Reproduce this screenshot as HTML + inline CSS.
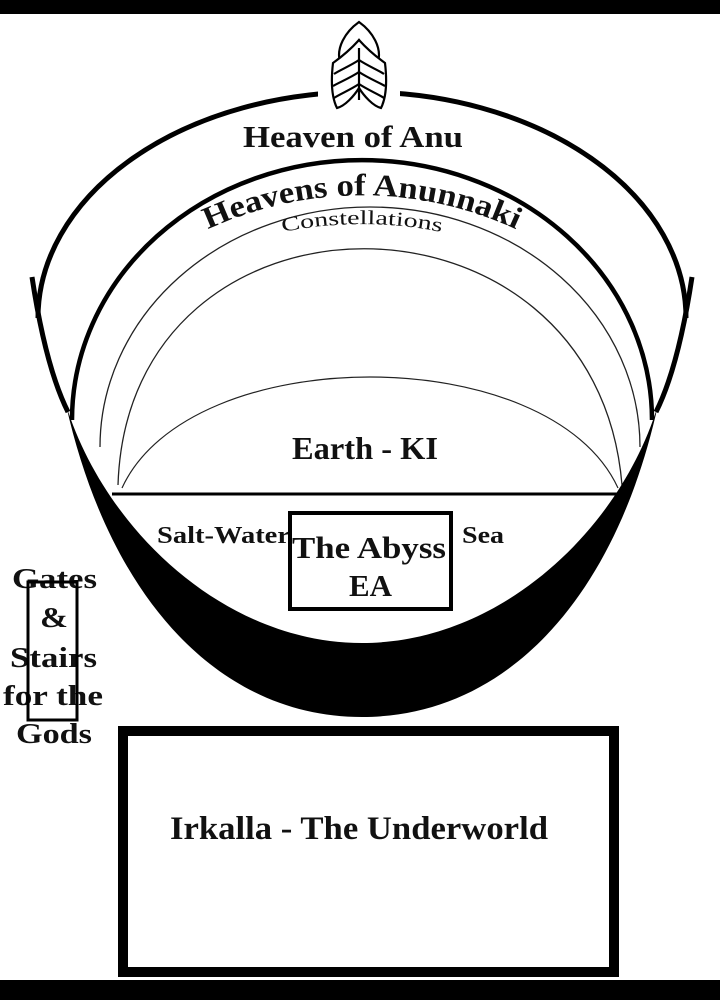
<!DOCTYPE html>
<html><head><meta charset="utf-8"><style>
html,body{margin:0;padding:0;background:#fff;}
svg{display:block;}
text{font-family:"Liberation Serif",serif;font-weight:bold;fill:#111;}
</style></head><body>
<svg width="720" height="1000" viewBox="0 0 720 1000" xmlns="http://www.w3.org/2000/svg">
<rect x="0" y="0" width="720" height="14" fill="#000"/>
<rect x="0" y="980" width="720" height="20" fill="#000"/>

<path d="M38,318 A324 226 0 0 1 686,318" fill="none" stroke="#000" stroke-width="5"/>
<rect x="318" y="80" width="82" height="30" fill="#fff"/>
<g fill="#fff" stroke="#000" stroke-width="2.2">
<path d="M359,22 C345,32 336,48 340,62 C345,64 352,50 359,40 C366,50 373,64 378,62 C382,48 373,32 359,22 Z"/>
<path d="M359,40 C350,50 340,58 333,63 C331,80 331,96 337,108 C345,106 354,96 359,88 C364,96 373,106 381,108 C387,96 387,80 385,63 C378,58 368,50 359,40 Z"/>
<path d="M359,48 L359,100" fill="none"/>
<path d="M359,60 C350,66 340,70 334,74 M359,72 C350,78 340,82 333,86 M359,84 C350,90 340,94 334,98 M359,60 C368,66 378,70 384,74 M359,72 C368,78 378,82 385,86 M359,84 C368,90 378,94 384,98" fill="none"/>
</g>

<path d="M72,420 A290 260 0 0 1 652,420" fill="none" stroke="#000" stroke-width="4.5"/>
<path d="M100,447 A270 240 0 0 1 640,447" fill="none" stroke="#222" stroke-width="1.3"/>
<path d="M118,485 C128,170 596,170 622,485" fill="none" stroke="#222" stroke-width="1.3"/>
<path d="M122,488 C190,340 550,340 618,488" fill="none" stroke="#222" stroke-width="1.2"/>

<path d="M32,277 C40,330 52,380 68,412" fill="none" stroke="#000" stroke-width="5"/>
<path d="M692,277 C684,330 672,380 656,412" fill="none" stroke="#000" stroke-width="5"/>
<path d="M66,405 C110,600 220,717 362,717 C505,717 615,600 658,405 C620,530 500,643 362,643 C225,643 105,530 66,405 Z" fill="#000"/>
<line x1="112" y1="494" x2="626" y2="494" stroke="#000" stroke-width="3"/>

<defs>
<path id="p1" d="M150,263 A366 366 0 0 1 574,263"/>
<path id="p2" d="M200,258 A404 404 0 0 1 524,258"/>
</defs>
<text x="243" y="147" font-size="31" textLength="220" lengthAdjust="spacingAndGlyphs">Heaven of Anu</text>
<text font-size="31"><textPath href="#p1" startOffset="50%" text-anchor="middle" textLength="318" lengthAdjust="spacingAndGlyphs">Heavens of Anunnaki</textPath></text>
<text font-size="20" style="font-weight:normal"><textPath href="#p2" startOffset="50%" text-anchor="middle" textLength="160" lengthAdjust="spacingAndGlyphs">Constellations</textPath></text>
<text x="292" y="459" font-size="32" textLength="146" lengthAdjust="spacingAndGlyphs">Earth - KI</text>

<text x="157" y="543" font-size="24" textLength="133" lengthAdjust="spacingAndGlyphs">Salt-Water</text>
<text x="462" y="543" font-size="24" textLength="42" lengthAdjust="spacingAndGlyphs">Sea</text>
<rect x="290" y="513" width="161" height="96" fill="none" stroke="#000" stroke-width="4"/>
<text x="292" y="558" font-size="31" textLength="154" lengthAdjust="spacingAndGlyphs">The Abyss</text>
<text x="349" y="596" font-size="31" textLength="43" lengthAdjust="spacingAndGlyphs">EA</text>

<g font-size="29">
<text x="12" y="588" textLength="85" lengthAdjust="spacingAndGlyphs">Gates</text>
<text x="40" y="627" textLength="28" lengthAdjust="spacingAndGlyphs">&amp;</text>
<text x="10" y="667" textLength="87" lengthAdjust="spacingAndGlyphs">Stairs</text>
<text x="3" y="705" textLength="100" lengthAdjust="spacingAndGlyphs">for the</text>
<text x="16" y="743" textLength="76" lengthAdjust="spacingAndGlyphs">Gods</text>
</g>
<rect x="28" y="582" width="49" height="138" fill="none" stroke="#000" stroke-width="3"/>

<rect x="123" y="731" width="491" height="241" fill="none" stroke="#000" stroke-width="10"/>
<text x="170" y="839" font-size="33" textLength="378" lengthAdjust="spacingAndGlyphs">Irkalla - The Underworld</text>
</svg>
</body></html>
